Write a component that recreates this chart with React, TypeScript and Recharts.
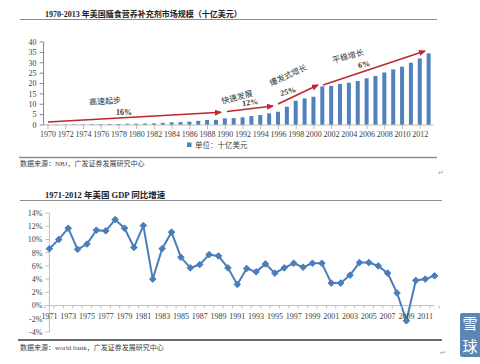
import React from 'react';
import { BarChart, Bar, XAxis, YAxis, LineChart, Line, ReferenceLine } from 'recharts';

// ---------- Data ----------
const marketYears = [
  '1970','1971','1972','1973','1974','1975','1976','1977','1978','1979',
  '1980','1981','1982','1983','1984','1985','1986','1987','1988','1989',
  '1990','1991','1992','1993','1994','1995','1996','1997','1998','1999',
  '2000','2001','2002','2003','2004','2005','2006','2007','2008','2009',
  '2010','2011','2012','2013',
];
const marketValues = [
  0.2, 0.2, 0.25, 0.3, 0.3, 0.35, 0.4, 0.45, 0.5, 0.55,
  0.6, 0.7, 0.8, 1.0, 1.3, 1.4, 1.6, 2.0, 2.4, 2.5,
  3.2, 3.3, 3.7, 4.3, 4.8, 5.6, 6.4, 8.8, 11.7, 12.8,
  13.6, 18.6, 18.9, 19.8, 20.4, 21.2, 22.5, 23.6, 25.3, 26.8,
  28.1, 30.0, 32.1, 34.5,
];
const marketTicks = [0, 5, 10, 15, 20, 25, 30, 35, 40];
const marketSeriesName = '单位：十亿美元';

const gdpYears = [
  '1971','1972','1973','1974','1975','1976','1977','1978','1979','1980',
  '1981','1982','1983','1984','1985','1986','1987','1988','1989','1990',
  '1991','1992','1993','1994','1995','1996','1997','1998','1999','2000',
  '2001','2002','2003','2004','2005','2006','2007','2008','2009','2010',
  '2011','2012',
];
const gdpGrowth = [
  8.6, 10.0, 11.7, 8.5, 9.3, 11.4, 11.3, 13.0, 11.7, 8.8,
  12.1, 4.0, 8.6, 11.1, 7.3, 5.7, 6.2, 7.7, 7.5, 5.7,
  3.2, 5.6, 5.1, 6.3, 4.9, 5.7, 6.4, 5.8, 6.4, 6.4,
  3.4, 3.4, 4.6, 6.5, 6.5, 6.0, 4.9, 1.9, -2.3, 3.8,
  4.0, 4.5,
];
const gdpTicks = [-4, -2, 0, 2, 4, 6, 8, 10, 12, 14];

const marketData = marketYears.map((year, i) => ({ year, value: marketValues[i] }));
const gdpData = gdpYears.map((year, i) => ({ year, value: gdpGrowth[i] }));

// ---------- Styles ----------
const SERIF = '"Liberation Serif", "Times New Roman", "Noto Sans CJK SC", serif';
const CJK = '"Liberation Serif", "Noto Sans CJK SC", sans-serif';
const BLUE = '#4F81BD';
const LINE_BLUE = '#4A7EBB';
const RED = '#C0272D';
const AXIS = '#868686';
const TXT = '#333333';

// line chart geometry
const L_W = 480;
const L_H = 170;
const L_MARGIN = { top: 33, right: 45.4, left: 4.4, bottom: 8 };
const L_YW = 45;
const L_XH = 10;
const L_PLOT_H = L_H - L_MARGIN.top - L_MARGIN.bottom - L_XH;
const L_PLOT_W = L_W - L_MARGIN.left - L_MARGIN.right - L_YW;
const G_MIN = -4;
const G_MAX = 14;

const GdpTick = (props: any) => {
  const { x, y, payload, index } = props;
  const zeroY = y - (L_PLOT_H * (0 - G_MIN)) / (G_MAX - G_MIN);
  const band = L_PLOT_W / gdpYears.length;
  return (
    <g>
      <line x1={x + band / 2} x2={x + band / 2} y1={zeroY} y2={zeroY + 3} stroke="#bfbfbf" />
      {index === 0 && (
        <line x1={x - band / 2} x2={x - band / 2} y1={zeroY} y2={zeroY + 3} stroke="#bfbfbf" />
      )}
      {index % 2 === 0 && (
        <text x={x} y={zeroY + 13.5} textAnchor="middle" fontSize={8} fontFamily={SERIF} fill="#404040">
          {payload.value}
        </text>
      )}
    </g>
  );
};

const Diamond = (props: any) => {
  const { cx, cy, index } = props;
  if (cx == null || cy == null) return <g key={index} />;
  const r = 3.3;
  return (
    <path
      key={index}
      d={`M${cx},${cy - r} L${cx + r},${cy} L${cx},${cy + r} L${cx - r},${cy} Z`}
      fill={LINE_BLUE}
      stroke={LINE_BLUE}
    />
  );
};

export default function App() {
  return (
    <div
      style={{
        position: 'absolute',
        left: 0,
        top: 0,
        width: 480,
        height: 364,
        background: '#ffffff',
        overflow: 'hidden',
      }}
    >
      {/* Top bar chart */}
      <div style={{ position: 'absolute', left: 0, top: 0 }}>
        <BarChart
          width={480}
          height={160}
          data={marketData}
          margin={{ top: 42, right: 46.5, left: 3.6, bottom: 15 }}
          barSize={4}
        >
          <XAxis
            dataKey="year"
            interval={1}
            height={20}
            tick={{ fontSize: 8, fontFamily: SERIF, fill: '#404040' }}
            tickSize={4}
            tickMargin={2}
            axisLine={{ stroke: '#bfbfbf' }}
            tickLine={{ stroke: '#d9b38c' }}
          />
          <YAxis
            width={40}
            domain={[0, 40]}
            ticks={marketTicks}
            interval={0}
            tick={{ fontSize: 8, fontFamily: SERIF, fill: '#404040' }}
            tickSize={4}
            tickMargin={3}
            axisLine={{ stroke: AXIS }}
            tickLine={{ stroke: AXIS }}
          />
          <Bar dataKey="value" name={marketSeriesName} fill={BLUE} isAnimationActive={false} />
        </BarChart>
      </div>

      {/* Bottom line chart */}
      <div style={{ position: 'absolute', left: 0, top: 180 }}>
        <LineChart width={L_W} height={L_H} data={gdpData} margin={L_MARGIN}>
          <XAxis
            dataKey="year"
            interval={0}
            height={L_XH}
            tick={<GdpTick />}
            tickSize={0}
            tickMargin={0}
            axisLine={false}
            tickLine={false}
          />
          <YAxis
            width={L_YW}
            domain={[G_MIN, G_MAX]}
            ticks={gdpTicks}
            interval={0}
            tickFormatter={(v: number) => `${v}%`}
            tick={{ fontSize: 8, fontFamily: SERIF, fill: '#404040' }}
            tickSize={4}
            tickMargin={3}
            axisLine={{ stroke: '#bfbfbf' }}
            tickLine={{ stroke: '#bfbfbf' }}
          />
          <ReferenceLine y={0} stroke="#bfbfbf" strokeWidth={1} />
          <Line
            type="linear"
            dataKey="value"
            stroke={LINE_BLUE}
            strokeWidth={2}
            dot={Diamond}
            activeDot={false}
            isAnimationActive={false}
          />
        </LineChart>
      </div>

      {/* Overlay: titles, rules, annotations, sources */}
      <svg
        width={480}
        height={364}
        style={{ position: 'absolute', left: 0, top: 0, pointerEvents: 'none' }}
      >
        <defs>
          <marker id="ah" markerWidth="7" markerHeight="6" refX="6" refY="3" orient="auto" markerUnits="userSpaceOnUse">
            <path d="M0,0 L7,3 L0,6 z" fill={RED} />
          </marker>
        </defs>

        {/* Title 1 */}
        <text x={45} y={16.5} fontSize={8} fontWeight="bold" fontFamily={CJK} fill="#222">
          1970-2013 年美国膳食营养补充剂市场规模（十亿美元）
        </text>
        <line x1={20} x2={437} y1={19.5} y2={19.5} stroke="#8c8c8c" strokeWidth={1.2} />

        {/* Arrows */}
        <line x1={48} y1={122} x2={221} y2={112.3} stroke={RED} strokeWidth={1.6} markerEnd="url(#ah)" />
        <line x1={227} y1={111.5} x2={273} y2={106} stroke={RED} strokeWidth={1.6} markerEnd="url(#ah)" />
        <line x1={278} y1={104} x2={318} y2={85} stroke={RED} strokeWidth={1.6} markerEnd="url(#ah)" />
        <line x1={323} y1={85} x2={425} y2={51} stroke={RED} strokeWidth={1.6} markerEnd="url(#ah)" />

        {/* Phase labels */}
        <text x={105} y={104} fontSize={8} fontFamily={CJK} fill={TXT} textAnchor="middle" transform="rotate(-4 105 101)">
          高速起步
        </text>
        <text x={124} y={114.5} fontSize={8} fontWeight="bold" fontFamily={SERIF} fill={TXT} textAnchor="middle">
          16%
        </text>
        <text x={237} y={100} fontSize={8} fontFamily={CJK} fill={TXT} textAnchor="middle" transform="rotate(-15 237 97)">
          快速发展
        </text>
        <text x={250} y={105} fontSize={8} fontWeight="bold" fontFamily={SERIF} fill={TXT} textAnchor="middle" transform="rotate(-8 250 102)">
          12%
        </text>
        <text x={288} y={78} fontSize={8} fontFamily={CJK} fill={TXT} textAnchor="middle" transform="rotate(-25 288 75)">
          爆发式增长
        </text>
        <text x={288} y={94} fontSize={8} fontWeight="bold" fontFamily={SERIF} fill={TXT} textAnchor="middle" transform="rotate(-15 288 91)">
          25%
        </text>
        <text x={348} y={59} fontSize={8} fontFamily={CJK} fill={TXT} textAnchor="middle" transform="rotate(-15 348 56)">
          平稳增长
        </text>
        <text x={364} y={67} fontSize={8} fontWeight="bold" fontFamily={SERIF} fill={TXT} textAnchor="middle" transform="rotate(-10 364 64)">
          6%
        </text>

        {/* Legend */}
        <rect x={187} y={142.5} width={4.5} height={4.5} fill={BLUE} />
        <text x={195} y={147.5} fontSize={7.5} fontFamily={CJK} fill="#404040">
          {marketSeriesName}
        </text>

        {/* Source 1 */}
        <line x1={19} x2={437} y1={157.5} y2={157.5} stroke="#8c8c8c" strokeWidth={1.5} />
        <text x={20} y={166} fontSize={7} fontFamily={CJK} fill="#404040">
          数据来源：NBJ，广发证券发展研究中心
        </text>
        <text x={438} y={175} fontSize={7} fontFamily={SERIF} fill="#999">↵</text>

        {/* Title 2 */}
        <text x={45} y={198} fontSize={8.5} fontWeight="bold" fontFamily={CJK} fill="#222">
          1971-2012 年美国 GDP 同比增速
        </text>
        <line x1={20} x2={442} y1={200.5} y2={200.5} stroke="#8c8c8c" strokeWidth={1.2} />

        {/* Source 2 */}
        <line x1={18} x2={442} y1={340} y2={340} stroke="#6e6e6e" strokeWidth={1.8} />
        <text x={20} y={349.5} fontSize={7} fontFamily={CJK} fill="#404040">
          数据来源：world bank，广发证券发展研究中心
        </text>
        <text x={440} y={355} fontSize={7} fontFamily={SERIF} fill="#999">↵</text>

        {/* Watermark */}
        <rect x={460} y={313} width={22} height={44} rx={2} fill="#5b87b5" />
        <text x={470} y={329} fontSize={15} fontFamily='"Noto Sans CJK SC", sans-serif' fill="#ffffff" textAnchor="middle">
          雪
        </text>
        <text x={470} y={352} fontSize={15} fontFamily='"Noto Sans CJK SC", sans-serif' fill="#ffffff" textAnchor="middle">
          球
        </text>
      </svg>
    </div>
  );
}
